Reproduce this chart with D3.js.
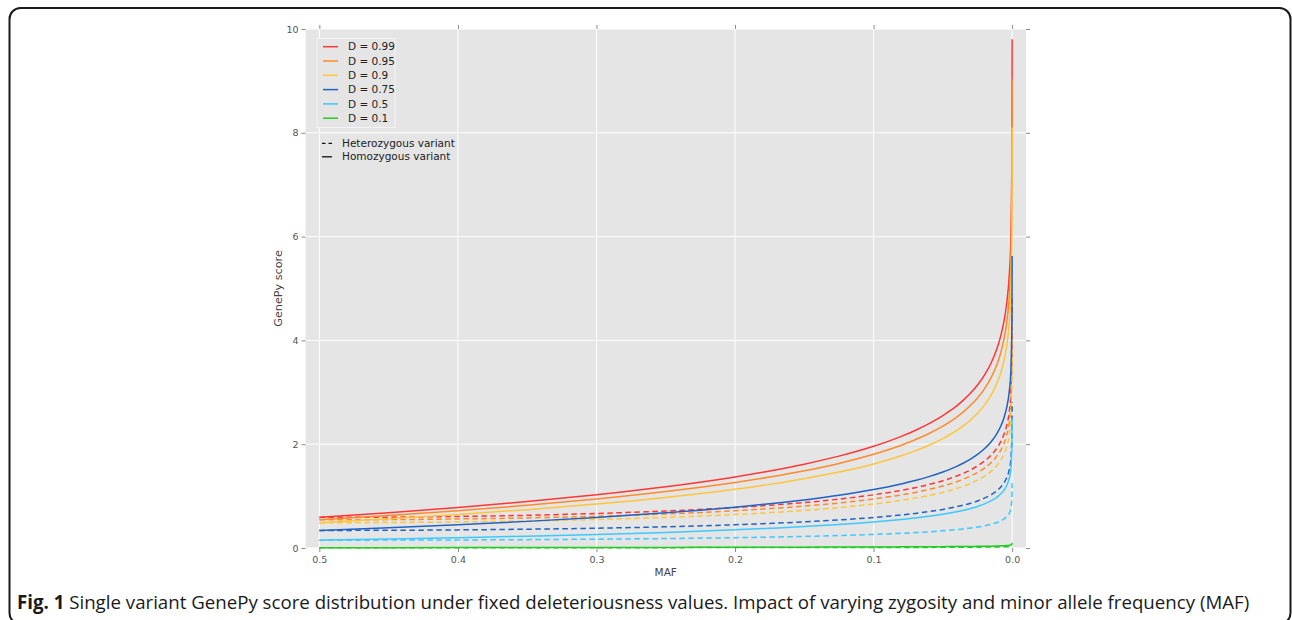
<!DOCTYPE html>
<html>
<head>
<meta charset="utf-8">
<script src="https://cdn.jsdelivr.net/npm/d3@7"></script>
<style>
  html, body { margin: 0; padding: 0; background: #fff; }
  svg { display: block; }
</style>
</head>
<body>
<svg id="chart" width="1292" height="620"></svg>
<script>
// ---------- data ----------
const maf = [0.5, 0.45, 0.4, 0.35, 0.3, 0.25, 0.2, 0.175, 0.15, 0.125, 0.1, 0.09, 0.08, 0.07, 0.06, 0.05,
             0.045, 0.04, 0.035, 0.03, 0.025, 0.02, 0.015, 0.012, 0.01, 0.008, 0.006, 0.004, 0.002, 0.001, 0.0001, 0.00001];

const dLabels = ["D = 0.99", "D = 0.95", "D = 0.9", "D = 0.75", "D = 0.5", "D = 0.1"];

// homozygous variant (solid lines)
const hom099 = [0.590, 0.680, 0.780, 0.894, 1.025, 1.180, 1.370, 1.484, 1.615, 1.770, 1.960, 2.050, 2.150, 2.264, 2.395, 2.550,
                2.640, 2.740, 2.854, 2.985, 3.140, 3.330, 3.575, 3.766, 3.920, 4.111, 4.356, 4.701, 5.291, 5.881, 7.841, 9.801];
const hom095 = [0.543, 0.626, 0.718, 0.823, 0.944, 1.087, 1.262, 1.366, 1.487, 1.630, 1.805, 1.888, 1.980, 2.085, 2.206, 2.348,
                2.431, 2.523, 2.628, 2.749, 2.892, 3.067, 3.292, 3.467, 3.610, 3.785, 4.011, 4.328, 4.872, 5.415, 7.220, 9.025];
const hom090 = [0.488, 0.562, 0.645, 0.739, 0.847, 0.975, 1.132, 1.226, 1.335, 1.463, 1.620, 1.695, 1.777, 1.871, 1.980, 2.108,
                2.182, 2.265, 2.359, 2.467, 2.595, 2.752, 2.955, 3.112, 3.240, 3.397, 3.600, 3.885, 4.372, 4.860, 6.480, 8.100];
const hom075 = [0.339, 0.390, 0.448, 0.513, 0.588, 0.677, 0.786, 0.852, 0.927, 1.016, 1.125, 1.177, 1.234, 1.299, 1.375, 1.464,
                1.515, 1.573, 1.638, 1.713, 1.802, 1.911, 2.052, 2.161, 2.250, 2.359, 2.500, 2.698, 3.036, 3.375, 4.500, 5.625];
const hom050 = [0.151, 0.174, 0.199, 0.228, 0.262, 0.301, 0.350, 0.379, 0.412, 0.452, 0.500, 0.523, 0.549, 0.578, 0.611, 0.651,
                0.674, 0.699, 0.728, 0.762, 0.801, 0.850, 0.912, 0.961, 1.000, 1.049, 1.111, 1.199, 1.350, 1.500, 2.000, 2.500];
const hom010 = [0.006, 0.007, 0.008, 0.009, 0.010, 0.012, 0.014, 0.015, 0.016, 0.018, 0.020, 0.021, 0.022, 0.023, 0.024, 0.026,
                0.027, 0.028, 0.029, 0.030, 0.032, 0.034, 0.036, 0.038, 0.040, 0.042, 0.044, 0.048, 0.054, 0.060, 0.080, 0.100];

// heterozygous variant (dashed lines)
const het099 = [0.590, 0.594, 0.608, 0.630, 0.665, 0.713, 0.780, 0.824, 0.876, 0.942, 1.025, 1.065, 1.110, 1.162, 1.224, 1.297,
                1.340, 1.388, 1.442, 1.505, 1.581, 1.674, 1.794, 1.888, 1.964, 2.058, 2.180, 2.352, 2.646, 2.940, 3.920, 4.901];
const het095 = [0.543, 0.547, 0.560, 0.580, 0.612, 0.656, 0.718, 0.759, 0.807, 0.867, 0.944, 0.981, 1.023, 1.070, 1.127, 1.194,
                1.234, 1.278, 1.328, 1.386, 1.456, 1.541, 1.652, 1.738, 1.809, 1.895, 2.007, 2.166, 2.437, 2.708, 3.610, 4.513];
const het090 = [0.488, 0.491, 0.502, 0.521, 0.549, 0.589, 0.645, 0.681, 0.724, 0.778, 0.847, 0.880, 0.918, 0.961, 1.012, 1.072,
                1.107, 1.147, 1.192, 1.244, 1.307, 1.383, 1.482, 1.560, 1.623, 1.701, 1.801, 1.944, 2.187, 2.430, 3.240, 4.050];
const het075 = [0.339, 0.341, 0.349, 0.362, 0.381, 0.409, 0.448, 0.473, 0.503, 0.541, 0.588, 0.611, 0.637, 0.667, 0.703, 0.744,
                0.769, 0.797, 0.827, 0.864, 0.907, 0.961, 1.029, 1.083, 1.127, 1.181, 1.251, 1.350, 1.519, 1.688, 2.250, 2.813];
const het050 = [0.151, 0.152, 0.155, 0.161, 0.170, 0.182, 0.199, 0.210, 0.224, 0.240, 0.262, 0.272, 0.283, 0.297, 0.312, 0.331,
                0.342, 0.354, 0.368, 0.384, 0.403, 0.427, 0.458, 0.482, 0.501, 0.525, 0.556, 0.600, 0.675, 0.750, 1.000, 1.250];
const het010 = [0.006, 0.006, 0.006, 0.006, 0.007, 0.007, 0.008, 0.008, 0.009, 0.010, 0.010, 0.011, 0.011, 0.012, 0.012, 0.013,
                0.014, 0.014, 0.015, 0.015, 0.016, 0.017, 0.018, 0.019, 0.020, 0.021, 0.022, 0.024, 0.027, 0.030, 0.040, 0.050];

const homSeries = [hom099, hom095, hom090, hom075, hom050, hom010];
const hetSeries = [het099, het095, het090, het075, het050, het010];
const colors = ["#ff3636", "#ff8a2b", "#ffc53a", "#1f62c4", "#3cc9ff", "#22cc22"];

const xTicks = [0.5, 0.4, 0.3, 0.2, 0.1, 0.0];
const yTicks = [0, 2, 4, 6, 8, 10];
const zygLabels = ["Heterozygous variant", "Homozygous variant"];
const captionBold = "Fig. 1";
const captionText = " Single variant GenePy score distribution under fixed deleteriousness values. Impact of varying zygosity and minor allele frequency (MAF)";

// ---------- layout ----------
const svg = d3.select("#chart");
const P = { left: 305.5, right: 1026, top: 29, bottom: 548 };

const x = d3.scaleLinear().domain([0.51, -0.01]).range([P.left, P.right]);
const y = d3.scaleLinear().domain([0, 10]).range([P.bottom, P.top]);

// outer figure frame (bottom edge runs past the page)
svg.append("rect")
  .attr("x", 9.5).attr("y", 8).attr("width", 1281).attr("height", 616)
  .attr("rx", 11).attr("ry", 11)
  .attr("fill", "none").attr("stroke", "#1a1a1a").attr("stroke-width", 2);

// plot background
svg.append("rect")
  .attr("x", P.left).attr("y", P.top)
  .attr("width", P.right - P.left).attr("height", P.bottom - P.top)
  .attr("fill", "#e5e5e5");

// grid
const grid = svg.append("g");
grid.selectAll("line.gx").data(xTicks).join("line")
  .attr("x1", d => x(d)).attr("x2", d => x(d))
  .attr("y1", P.top).attr("y2", P.bottom)
  .attr("stroke", "#ffffff").attr("stroke-width", 1);
grid.selectAll("line.gy").data(yTicks).join("line")
  .attr("y1", d => y(d)).attr("y2", d => y(d))
  .attr("x1", P.left).attr("x2", P.right)
  .attr("stroke", "#ffffff").attr("stroke-width", 1);

// clip
svg.append("clipPath").attr("id", "clip").append("rect")
  .attr("x", P.left).attr("y", P.top - 1)
  .attr("width", P.right - P.left).attr("height", P.bottom - P.top + 2);

const line = d3.line()
  .x((d, i) => x(maf[i]))
  .y(d => y(d))
  .curve(d3.curveMonotoneX);

const lines = svg.append("g").attr("clip-path", "url(#clip)");
homSeries.forEach((s, k) => {
  lines.append("path").datum(s)
    .attr("d", line).attr("fill", "none")
    .attr("stroke", colors[k]).attr("stroke-width", 1.5);
  lines.append("path").datum(hetSeries[k])
    .attr("d", line).attr("fill", "none")
    .attr("stroke", colors[k]).attr("stroke-width", 1.5)
    .attr("stroke-dasharray", "5.5,3.5");
});

// axes
const tickColor = "#8a8a8a";
const labelColor = "#555555";
const fmtX = d3.format(".1f");

function styleAxis(g) {
  g.select(".domain").remove();
  g.selectAll(".tick line").attr("stroke", tickColor).attr("stroke-width", 1);
  g.selectAll(".tick text").attr("fill", labelColor)
    .style("font-family", "DejaVu Sans, sans-serif").style("font-size", "9.5px");
}

svg.append("g").attr("transform", `translate(${P.left},0)`)
  .call(d3.axisLeft(y).tickValues(yTicks).tickSize(4).tickPadding(3).tickFormat(d3.format("d")))
  .call(styleAxis);
svg.append("g").attr("transform", `translate(${P.right},0)`)
  .call(d3.axisRight(y).tickValues(yTicks).tickSize(4).tickFormat(""))
  .call(styleAxis);
svg.append("g").attr("transform", `translate(0,${P.bottom})`)
  .call(d3.axisBottom(x).tickValues(xTicks).tickSize(4).tickPadding(4).tickFormat(fmtX))
  .call(styleAxis);
svg.append("g").attr("transform", `translate(0,${P.top})`)
  .call(d3.axisTop(x).tickValues(xTicks).tickSize(4).tickFormat(""))
  .call(styleAxis);

// axis labels
svg.append("text")
  .attr("x", (P.left + P.right) / 2).attr("y", 576)
  .attr("text-anchor", "middle")
  .attr("fill", "#444").style("font-family", "DejaVu Sans, sans-serif").style("font-size", "10.5px")
  .text("MAF");
svg.append("text")
  .attr("transform", `translate(282,${(P.top + P.bottom) / 2}) rotate(-90)`)
  .attr("text-anchor", "middle")
  .attr("fill", "#444").style("font-family", "DejaVu Sans, sans-serif").style("font-size", "11.2px")
  .text("GenePy score");

// legend (D values)
const lg = svg.append("g");
lg.append("rect")
  .attr("x", 317).attr("y", 38.5).attr("width", 78).attr("height", 89)
  .attr("fill", "#e5e5e5").attr("stroke", "#f4f4f4").attr("stroke-width", 1);
dLabels.forEach((lab, k) => {
  const yy = 46.7 + k * 14.3;
  lg.append("line").attr("x1", 323).attr("x2", 338).attr("y1", yy).attr("y2", yy)
    .attr("stroke", colors[k]).attr("stroke-width", 1.5);
  lg.append("text").attr("x", 348).attr("y", yy).attr("dy", "0.35em")
    .attr("fill", "#222").style("font-family", "DejaVu Sans, sans-serif").style("font-size", "10.5px")
    .text(lab);
});

// legend (zygosity)
zygLabels.forEach((lab, k) => {
  const yy = 143.3 + k * 13.5;
  lg.append("line").attr("x1", 322).attr("x2", 332).attr("y1", yy).attr("y2", yy)
    .attr("stroke", "#111").attr("stroke-width", 1.3)
    .attr("stroke-dasharray", k === 0 ? "3.5,3" : null);
  lg.append("text").attr("x", 342).attr("y", yy).attr("dy", "0.35em")
    .attr("fill", "#222").style("font-family", "DejaVu Sans, sans-serif").style("font-size", "10.5px")
    .text(lab);
});

// caption
const cap = svg.append("text")
  .attr("x", 17).attr("y", 609)
  .attr("fill", "#1a1a1a")
  .style("font-family", "'Open Sans', sans-serif").style("font-size", "18px");
cap.append("tspan").style("font-weight", "bold").text(captionBold);
cap.append("tspan").text(captionText);
const capLen = cap.node().getComputedTextLength();
cap.style("font-size", (18 * 1233 / capLen).toFixed(2) + "px");
</script>
</body>
</html>
